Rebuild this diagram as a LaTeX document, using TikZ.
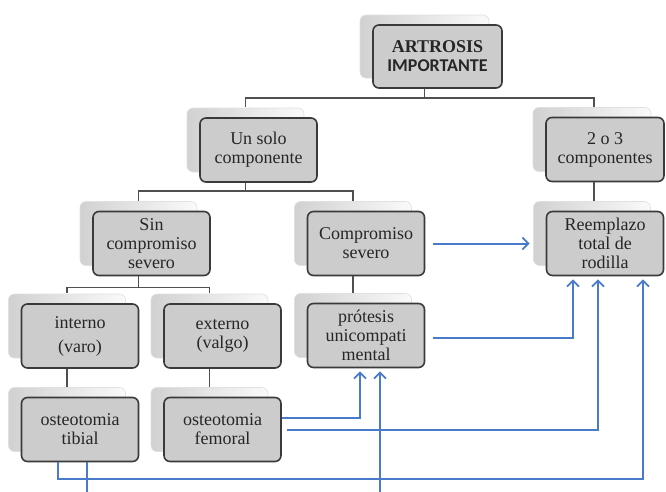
\documentclass[tikz,border=0pt]{standalone}
\usepackage{fontspec}
\setmainfont{Liberation Serif}
\newfontfamily\sansbold{Carlito}
\usepackage{tikz}
\usetikzlibrary{arrows.meta, shadows}

\definecolor{cajagris}{HTML}{CCCCCC}
\definecolor{bordegris}{HTML}{3A3A3A}
\definecolor{lineagris}{HTML}{505050}
\definecolor{azulflecha}{HTML}{4A7BCB}

\begin{document}
\begin{tikzpicture}[
    x=1pt, y=-1pt,
    card/.style={draw=bordegris, fill=cajagris, rounded corners=6pt, line width=1.6pt,
        minimum width=117pt, minimum height=64pt, align=center, inner sep=2pt,
        text=black!85, font=\fontsize{18}{19}\selectfont,
        general shadow={shadow xshift=-13pt, shadow yshift=10pt, draw=black!12, line width=0.6pt,
            left color=black!18, right color=black!2}},
    tree/.style={draw=lineagris, line width=1.4pt},
    flow/.style={-{Straight Barb[length=6pt, width=12pt, line width=1.8pt]}, draw=azulflecha, line width=2pt}
]
    \useasboundingbox (0,0) rectangle (666,491);

    % raíz
    \node[card, minimum width=129pt, minimum height=63pt] (artrosis) at (437.5,56.5)
    {\textbf{ARTROSIS}\\{\sansbold\bfseries IMPORTANTE}};

    % segundo nivel
    \node[card] (unsolo) at (258.5,150) {Un solo\\componente};
    \node[card, minimum width=118pt] (dostres) at (605,149.5) {2 o 3\\componentes};

    % tercer nivel
    \node[card] (sincomp) at (151.5,243.5) {Sin\\compromiso\\severo};
    \node[card] (compsev) at (366,243.5) {Compromiso\\severo};
    \node[card] (reemplazo) at (605,243.5) {Reemplazo\\total de\\rodilla};

    % cuarto nivel
    \node[card] (interno) at (80,336) {interno\\[5pt](varo)};
    \node[card] (externo) at (222.5,336) {externo\\(valgo)};
    \node[card] (protesis) at (366,335.5) {prótesis\\unicompati\\mental};

    % osteotomías
    \node[card] (tibial) at (80,429.5) {osteotomia\\tibial};
    \node[card] (femoral) at (222.5,429.5) {osteotomia\\femoral};

    % ramas del árbol
    \draw[tree] ([xshift=-13pt]artrosis.south) -- ++(0,9) -| ([shift={(-13pt,10pt)}]unsolo.north);
    \draw[tree] ([xshift=-13pt]artrosis.south) -- ++(0,9) -| ([shift={(-11pt,10pt)}]dostres.north);
    \draw[tree] ([xshift=-13pt]unsolo.south) -- ++(0,8) -| ([shift={(-13pt,10pt)}]sincomp.north);
    \draw[tree] ([xshift=-13pt]unsolo.south) -- ++(0,8) -| ([shift={(-13pt,10pt)}]compsev.north);
    \draw[tree] ([xshift=-11pt]dostres.south) -- ([shift={(-11pt,10pt)}]reemplazo.north);
    \draw[tree] ([xshift=-13pt]sincomp.south) -- ++(0,11) -| ([shift={(-13pt,10pt)}]interno.north);
    \draw[tree] ([xshift=-13pt]sincomp.south) -- ++(0,11) -| ([shift={(-13pt,10pt)}]externo.north);
    \draw[tree] ([xshift=-13pt]compsev.south) -- ([shift={(-13pt,10pt)}]protesis.north);
    \draw[tree] ([xshift=-13pt]interno.south) -- ([shift={(-13pt,10pt)}]tibial.north);
    \draw[tree] ([xshift=-13pt]externo.south) -- ([shift={(-13pt,10pt)}]femoral.north);

    % flechas azules
    \draw[flow] ([xshift=8pt]compsev.east) -- ([xshift=-16pt]reemplazo.west);
    \draw[flow] ([xshift=8pt, yshift=-2.5pt]protesis.east) -| ([xshift=-32pt, yshift=-3pt]reemplazo.south);
    \draw[flow] ([yshift=11.5pt]femoral.east) -| ([xshift=-6pt, yshift=-3pt]protesis.south);
    \draw[flow] ([xshift=5pt]femoral.east) -| ([xshift=-7pt, yshift=-3pt]reemplazo.south);
    \draw[flow] ([xshift=-22pt]tibial.south) -- ++(0,17) -| ([xshift=38pt, yshift=-3pt]reemplazo.south);
    \draw[flow] ([xshift=7pt]tibial.south) -- ++(0,45) -| ([xshift=14pt, yshift=-3pt]protesis.south);
\end{tikzpicture}
\end{document}
